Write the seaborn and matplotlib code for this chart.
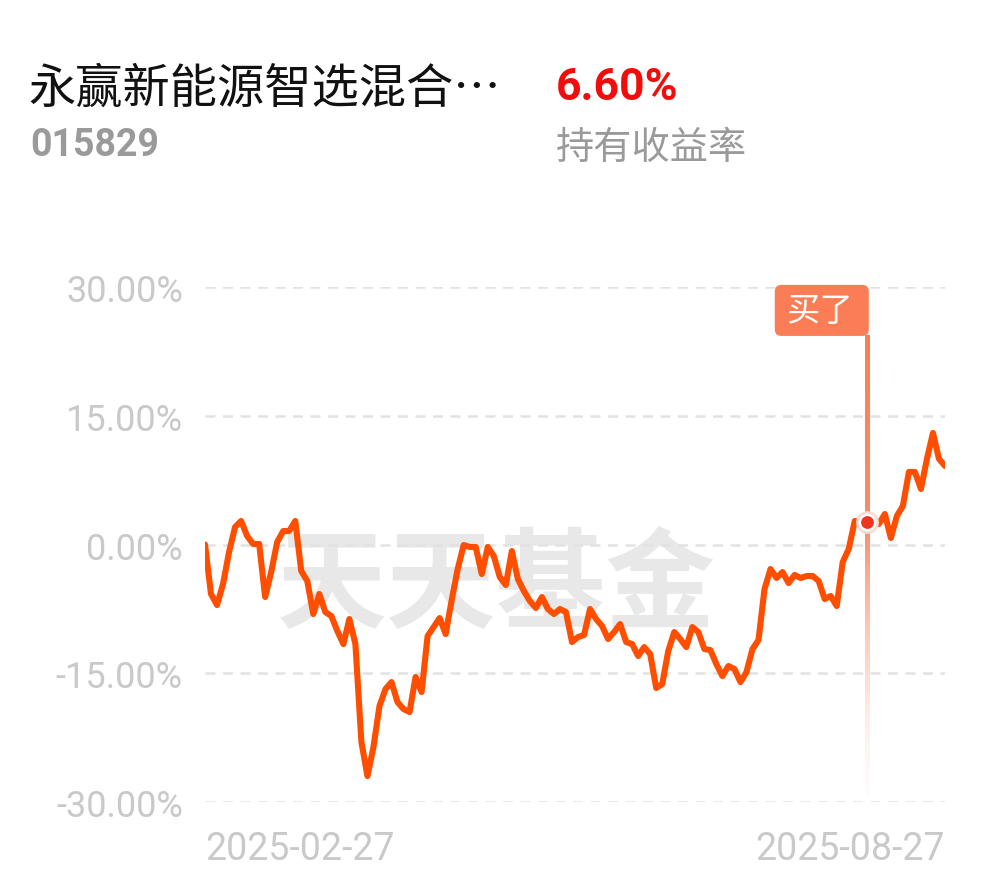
import numpy as np
import pandas as pd
import matplotlib
matplotlib.use("Agg")
import matplotlib.pyplot as plt
import seaborn as sns
from matplotlib.patches import FancyBboxPatch
from matplotlib.colors import to_rgba

# ---------------- data ----------------
fund_name = "永赢新能源智选混合…"
fund_code = "015829"
hold_return = "6.60%"
hold_label = "持有收益率"
start_date = "2025-02-27"
end_date = "2025-08-27"
buy_label = "买了"
watermark = "天天基金"

returns_part1 = [0.0, -5.77, -7.05, -4.60, -0.87, 2.04, 2.74, 0.99, 0.06, 0.06,
                 -6.12, -3.21, 0.29, 1.57, 1.57, 2.74, -3.09, -4.25, -8.10, -5.77,
                 -7.87, -8.33, -10.08, -11.60, -8.68, -11.60, -23.02, -26.98, -23.60, -18.82,
                 -16.84, -16.03, -18.36, -19.17, -19.52, -15.44, -17.19, -10.66, -9.62, -8.57,
                 -10.43, -6.50]
returns_part2 = [-2.86, -0.06, -0.29, -0.29, -3.44, -0.29, -1.34, -3.79, -4.72, -0.76,
                 -4.02, -5.42, -6.59, -7.40, -6.12, -7.52, -8.10, -7.52, -7.87, -11.36,
                 -10.78, -10.55, -7.52, -8.68, -9.50, -11.01, -10.20, -9.27, -11.36, -11.60,
                 -12.99, -11.95, -12.76, -16.72, -16.26, -12.41, -10.20, -11.01, -11.95, -9.62,
                 -10.20]
returns_part3 = [-12.18, -12.30, -13.93, -15.33, -14.16, -14.51, -16.03, -14.86, -12.18, -11.13,
                 -5.19, -2.86, -3.90, -3.21, -4.49, -3.55, -3.90, -3.67, -3.67, -4.25,
                 -6.35, -6.00, -7.17, -2.04, -0.52, 2.74, 2.62, 2.62, 2.62, 2.39,
                 3.55, 0.76, 3.32, 4.49, 8.45, 8.45, 6.47, 9.97, 13.00, 9.97,
                 9.15]
returns = returns_part1 + returns_part2 + returns_part3
buy_index = 110
y_ticks = [-30, -15, 0, 15, 30]
y_tick_labels = ["-30.00%", "-15.00%", "0.00%", "15.00%", "30.00%"]

df = pd.DataFrame({"day": np.arange(len(returns)), "ret": returns})
n = len(returns)

# ---------------- style ----------------
sns.set_theme(style="white")
plt.rcParams["font.family"] = ["Roboto", "Noto Sans CJK SC", "DejaVu Sans"]
CJK = ["Noto Sans CJK SC", "DejaVu Sans"]

W, H = 990, 878
fig = plt.figure(figsize=(W / 100, H / 100), dpi=100)
fig.patch.set_facecolor("white")

x0, x1 = 205, 945
ytop, ybot = 288, 803
ax = fig.add_axes([x0 / W, 1 - ybot / H, (x1 - x0) / W, (ybot - ytop) / H])
ax.set_facecolor("white")

line_color = "#FF4E00"
accent = "#FA7D55"

# watermark
ax.text(48.5, -5.0, watermark, fontsize=79, fontweight="bold", color="#E8E8E8",
        ha="center", va="center", family=CJK, zorder=0)

# grid lines
for yt in y_ticks:
    ax.axhline(yt, color="#E2E2E2", lw=1.8, ls=(0, (4, 3)), zorder=1)

sns.lineplot(data=df, x="day", y="ret", ax=ax, color=line_color, linewidth=4.4,
             zorder=3, solid_joinstyle="round", solid_capstyle="round")

# buy marker: gradient vertical line (image strip)
bx = buy_index
by = returns[buy_index]
top_y, bot_y = 24.3, -29.2
ys = np.linspace(top_y, bot_y, 400)
alphas = np.where(ys > by, 1.0 - 0.12 * (top_y - ys) / (top_y - by),
                  0.88 * np.clip((ys - bot_y) / (by - bot_y), 0, 1) ** 1.6 + 0.03)
r, g, b, _ = to_rgba(accent)
grad = np.zeros((len(ys), 1, 4))
grad[:, 0, 0], grad[:, 0, 1], grad[:, 0, 2] = r, g, b
grad[:, 0, 3] = alphas
half_w = 2.0 / 6.016
ax.imshow(grad, extent=[bx - half_w, bx + half_w, bot_y, top_y], aspect="auto",
          origin="upper", zorder=2, interpolation="bilinear", clip_on=False)

ax.set_xlim(0, n - 1)
ax.set_ylim(-30, 30)
for s in ax.spines.values():
    s.set_visible(False)

ax.set_yticks(y_ticks)
ax.set_yticklabels(y_tick_labels)
ax.tick_params(axis="y", length=0, pad=16, labelsize=26, labelcolor="#C9C9C9")
ax.set_xticks([0, n - 1])
ax.set_xticklabels([start_date, end_date])
ax.tick_params(axis="x", length=0, pad=20, labelsize=27, labelcolor="#C9C9C9")
xl = ax.get_xticklabels()
xl[0].set_ha("left")
xl[1].set_ha("right")
ax.set_xlabel("")
ax.set_ylabel("")

# label box
box_left = bx - 92 / 6.016
box_right = bx + 2 / 6.016
box = FancyBboxPatch((box_left, top_y), box_right - box_left, 30.25 - top_y,
                     boxstyle="round,pad=0,rounding_size=1.1", mutation_aspect=0.7,
                     fc=accent, ec="none", clip_on=False, zorder=4)
ax.add_patch(box)
ax.text((box_left + box_right) / 2 - 0.3, (top_y + 30.25) / 2, buy_label, color="white",
        fontsize=24, ha="center", va="center", family=CJK, zorder=5, clip_on=False)

# buy point dot
ax.scatter([bx], [by], s=270, color="#FBD9D2", zorder=5, linewidths=0)
ax.scatter([bx], [by], s=160, color="white", zorder=6, linewidths=0)
ax.scatter([bx], [by], s=85, color="#EE3522", zorder=7, linewidths=0)

# header texts
fig.text(28 / W, 1 - 90 / H, fund_name, fontsize=34, color="#111111",
         ha="left", va="center", family=CJK)
fig.text(30 / W, 1 - 146 / H, fund_code, fontsize=27, color="#9A9A9A",
         fontweight="bold", ha="left", va="center")
fig.text(556 / W, 1 - 88 / H, hold_return, fontsize=32, color="#F20D0D",
         fontweight="bold", ha="left", va="center")
fig.text(556 / W, 1 - 148 / H, hold_label, fontsize=27.5, color="#9A9A9A",
         ha="left", va="center", family=CJK)

fig.savefig("out.png", dpi=100, facecolor="white")
